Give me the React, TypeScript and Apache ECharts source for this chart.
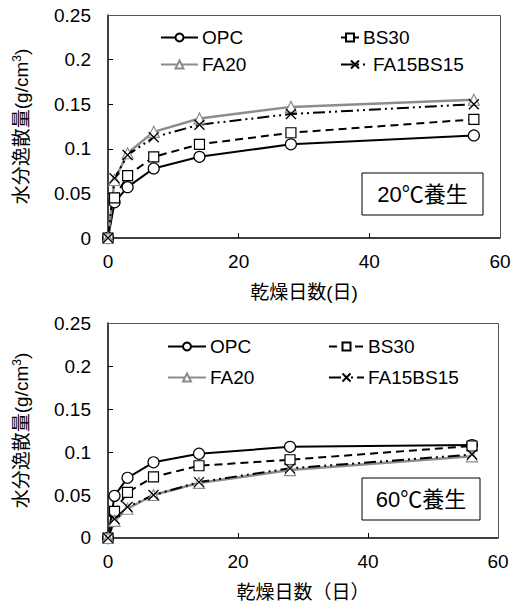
import React, { useEffect, useRef } from "react";
import * as echarts from "echarts";

const days = [0, 1, 3, 7, 14, 28, 56];
const seriesNames = ["OPC", "BS30", "FA20", "FA15BS15"];
// 20℃養生
const top_OPC = [0, 0.04, 0.057, 0.078, 0.091, 0.105, 0.115];
const top_BS30 = [0, 0.045, 0.07, 0.091, 0.105, 0.118, 0.133];
const top_FA20 = [0, 0.065, 0.095, 0.119, 0.134, 0.147, 0.155];
const top_FA15BS15 = [0, 0.067, 0.093, 0.113, 0.127, 0.139, 0.15];
// 60℃養生
const bot_OPC = [0, 0.049, 0.07, 0.088, 0.098, 0.106, 0.108];
const bot_BS30 = [0, 0.031, 0.053, 0.071, 0.084, 0.091, 0.107];
const bot_FA20 = [0, 0.02, 0.034, 0.05, 0.064, 0.079, 0.095];
const bot_FA15BS15 = [0, 0.022, 0.036, 0.05, 0.065, 0.081, 0.097];
const yTicks = [0, 0.05, 0.1, 0.15, 0.2, 0.25];
const xTicks = [0, 20, 40, 60];

const FONT = 'Arial, "Liberation Sans", "Noto Sans CJK JP", sans-serif';
const X_SYMBOL = "path://M0,0L10,10M10,0L0,10";

function styleFor(name: string) {
  switch (name) {
    case "OPC":
      return {
        symbol: "circle",
        symbolSize: 11,
        lineStyle: { color: "#000", width: 2, type: "solid" },
        itemStyle: { color: "#fff", borderColor: "#000", borderWidth: 1.2 },
      };
    case "BS30":
      return {
        symbol: "rect",
        symbolSize: 10,
        lineStyle: { color: "#000", width: 2, type: [8, 5] },
        itemStyle: { color: "#fff", borderColor: "#000", borderWidth: 1.2 },
      };
    case "FA20":
      return {
        symbol: "triangle",
        symbolSize: 11,
        lineStyle: { color: "#8c8c8c", width: 2.5, type: "solid" },
        itemStyle: { color: "#fff", borderColor: "#8c8c8c", borderWidth: 1.2 },
      };
    default:
      return {
        symbol: X_SYMBOL,
        symbolSize: 10,
        lineStyle: { color: "#000", width: 2, type: [12, 4, 2, 4, 2, 4] },
        itemStyle: { color: "none", borderColor: "#000", borderWidth: 1.3 },
      };
  }
}

export default function App() {
  const ref = useRef<HTMLDivElement>(null);
  useEffect(() => {
    if (!ref.current) return;
    const chart = echarts.init(ref.current, undefined, { renderer: "svg" });
    const grids = [
      { left: 108, top: 15, width: 392, height: 223 },
      { left: 108, top: 323, width: 390, height: 215 },
    ];
    const xNames = ["乾燥日数(日)", "乾燥日数（日）"];
    const xAxis = grids.map((_, i) => ({
      type: "value",
      gridIndex: i,
      min: xTicks[0],
      max: xTicks[xTicks.length - 1],
      interval: 20,
      name: xNames[i],
      nameLocation: "middle",
      nameGap: 45,
      nameTextStyle: { fontSize: 19, color: "#000", fontFamily: FONT },
      axisLine: { show: true, lineStyle: { color: "#000", width: 1.5 } },
      axisTick: { show: true, inside: true, length: 5, lineStyle: { color: "#000" } },
      axisLabel: { fontSize: 19, color: "#000", margin: 14, fontFamily: FONT },
      splitLine: { show: false },
    }));
    const yAxis = grids.map((_, i) => ({
      type: "value",
      gridIndex: i,
      min: yTicks[0],
      max: yTicks[yTicks.length - 1],
      interval: 0.05,
      name: "水分逸散量(g/cm{sup|3})",
      nameLocation: "middle",
      nameGap: 76,
      nameTextStyle: {
        fontSize: 19,
        color: "#000",
        fontFamily: FONT,
        rich: { sup: { fontSize: 12, padding: [0, 0, 9, 0], color: "#000", fontFamily: FONT } },
      },
      axisLine: { show: true, lineStyle: { color: "#000", width: 1.5 } },
      axisTick: { show: true, inside: true, length: 5, lineStyle: { color: "#000" } },
      axisLabel: { fontSize: 19, color: "#000", margin: 17, fontFamily: FONT },
      splitLine: { show: false },
    }));
    const topData = [top_OPC, top_BS30, top_FA20, top_FA15BS15];
    const botData = [bot_OPC, bot_BS30, bot_FA20, bot_FA15BS15];
    const series: any[] = [];
    [topData, botData].forEach((set, gi) => {
      set.forEach((vals, si) => {
        const name = seriesNames[si];
        series.push({
          type: "line",
          name,
          xAxisIndex: gi,
          yAxisIndex: gi,
          data: days.map((d, k) => [d, vals[k]]),
          showAllSymbol: true,
          ...styleFor(name),
        });
      });
    });
    const legendPos = [
      [
        { name: "OPC", left: 160, top: 28, w: 37 },
        { name: "BS30", left: 340, top: 28, w: 18 },
        { name: "FA20", left: 160, top: 55, w: 37 },
        { name: "FA15BS15", left: 340, top: 55, w: 28 },
      ],
      [
        { name: "OPC", left: 167, top: 337, w: 38 },
        { name: "BS30", left: 328, top: 337, w: 35 },
        { name: "FA20", left: 167, top: 368, w: 38 },
        { name: "FA15BS15", left: 328, top: 368, w: 35 },
      ],
    ];
    const legend: any[] = [];
    legendPos.forEach((arr) =>
      arr.forEach((l) =>
        legend.push({
          data: [l.name],
          left: l.left,
          top: l.top,
          itemWidth: l.w,
          itemHeight: 10,
          itemGap: 0,
          padding: 0,
          selectedMode: false,
          textStyle: { fontSize: 19, color: "#000", fontFamily: FONT, padding: [0, 0, 0, -1] },
        })
      )
    );
    const boxes = [
      { x: 362, y: 173, w: 121, h: 42, t: "20℃養生" },
      { x: 362, y: 478, w: 118, h: 42, t: "60℃養生" },
    ];
    const graphic: any[] = [];
    grids.forEach((g) => {
      graphic.push({
        type: "polyline",
        shape: {
          points: [
            [g.left, g.top + 0.5],
            [g.left + g.width + 0.5, g.top + 0.5],
            [g.left + g.width + 0.5, g.top + g.height],
          ],
        },
        style: { stroke: "#555", lineWidth: 1, fill: "none" },
        z: 1,
      });
    });
    boxes.forEach((b) => {
      graphic.push({
        type: "rect",
        shape: { x: b.x, y: b.y, width: b.w, height: b.h },
        style: { fill: "#fff", stroke: "#000", lineWidth: 1 },
        z: 10,
      });
      graphic.push({
        type: "text",
        x: b.x + b.w / 2,
        y: b.y + b.h / 2,
        style: {
          text: b.t,
          fontSize: 22,
          fontFamily: FONT,
          fill: "#000",
          align: "center",
          verticalAlign: "middle",
        },
        z: 11,
      });
    });
    chart.setOption({
      animation: false,
      backgroundColor: "#fff",
      grid: grids,
      xAxis,
      yAxis,
      series,
      legend,
      graphic,
    });
    return () => chart.dispose();
  }, []);
  return (
    <div
      ref={ref}
      style={{ position: "fixed", left: 0, top: 0, width: 517, height: 603 }}
    />
  );
}
